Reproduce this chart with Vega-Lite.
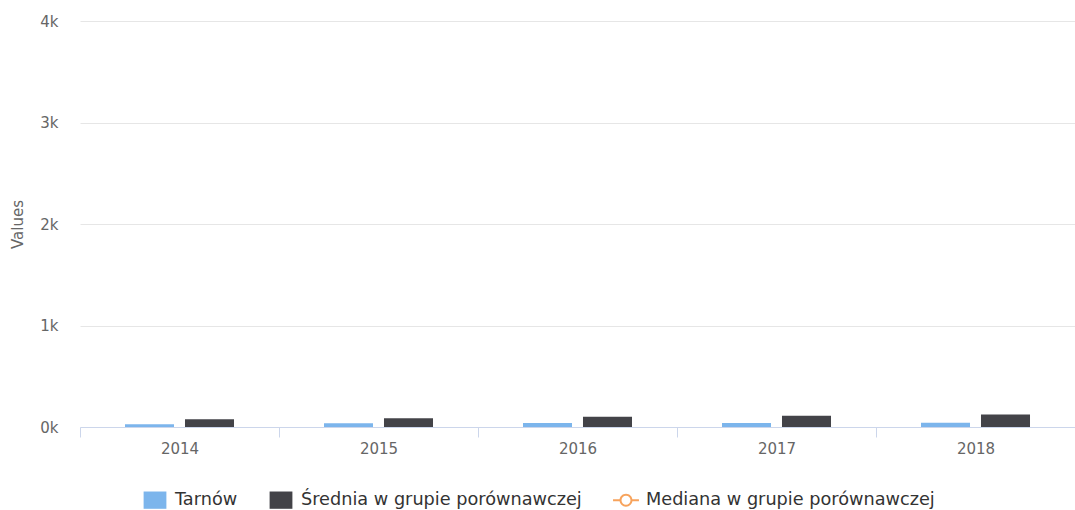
{
  "$schema": "https://vega.github.io/schema/vega-lite/v6.json",
  "width": 995,
  "height": 406,
  "autosize": {"type": "none"},
  "padding": {"left": 80, "top": 21, "right": 0, "bottom": 83},
  "background": "white",
  "config": {"view": {"stroke": null}, "font": "DejaVu Sans"},
  "data": {
    "values": [
      {"year": "2014", "series": "Tarnów", "value": 27},
      {"year": "2015", "series": "Tarnów", "value": 38},
      {"year": "2016", "series": "Tarnów", "value": 39},
      {"year": "2017", "series": "Tarnów", "value": 40},
      {"year": "2018", "series": "Tarnów", "value": 41},
      {"year": "2014", "series": "Średnia w grupie porównawczej", "value": 76},
      {"year": "2015", "series": "Średnia w grupie porównawczej", "value": 86},
      {"year": "2016", "series": "Średnia w grupie porównawczej", "value": 101},
      {"year": "2017", "series": "Średnia w grupie porównawczej", "value": 111},
      {"year": "2018", "series": "Średnia w grupie porównawczej", "value": 122}
    ]
  },
  "mark": {"type": "bar"},
  "encoding": {
    "x": {
      "field": "year",
      "type": "nominal",
      "scale": {"paddingInner": 0, "paddingOuter": 0},
      "axis": {
        "title": null,
        "labelAngle": 0,
        "domainColor": "#ccd6eb",
        "tickColor": "#ccd6eb",
        "tickBand": "extent",
        "tickSize": 10,
        "labelPadding": 4,
        "labelFontSize": 15,
        "labelColor": "#666666",
        "labelFont": "DejaVu Sans"
      }
    },
    "xOffset": {
      "field": "series",
      "type": "nominal",
      "scale": {
        "domain": ["Tarnów", "Średnia w grupie porównawczej"],
        "paddingInner": 0.183,
        "paddingOuter": 0.75
      }
    },
    "y": {
      "field": "value",
      "type": "quantitative",
      "scale": {"domain": [0, 4000], "nice": false},
      "axis": {
        "values": [0, 1000, 2000, 3000, 4000],
        "labelExpr": "datum.value / 1000 + 'k'",
        "domain": false,
        "ticks": false,
        "gridColor": "#e6e6e6",
        "labelPadding": 22,
        "labelFontSize": 15,
        "labelColor": "#666666",
        "labelFont": "DejaVu Sans",
        "title": "Values",
        "titleColor": "#666666",
        "titleFontSize": 15,
        "titleFont": "DejaVu Sans",
        "titleFontWeight": "normal",
        "titlePadding": 14
      }
    },
    "color": {
      "field": "series",
      "type": "nominal",
      "scale": {
        "domain": ["Tarnów", "Średnia w grupie porównawczej", "Mediana w grupie porównawczej"],
        "range": ["#7cb5ec", "#434348", "#f7a35c"]
      },
      "legend": {
        "orient": "none",
        "legendX": 63,
        "legendY": 467,
        "direction": "horizontal",
        "title": null,
        "labelFontSize": 17.7,
        "labelColor": "#333333",
        "labelFont": "DejaVu Sans",
        "labelLimit": 500,
        "symbolSize": 576,
        "symbolType": "M-0.95,-0.72H0.95V0.72H-0.95Z",
        "symbolStrokeWidth": 0,
        "labelOffset": 8,
        "columnPadding": 31,
        "encode": {
          "symbols": {
            "update": {
              "shape": {"signal": "datum.value === 'Mediana w grupie porównawczej' ? 'M-1.08,-0.083H-0.5V0.083H-1.08Z M0.5,-0.083H1.08V0.083H0.5Z M-0.54,0A0.54,0.54,0,1,1,0.54,0A0.54,0.54,0,1,1,-0.54,0Z M-0.375,0A0.375,0.375,0,1,0,0.375,0A0.375,0.375,0,1,0,-0.375,0Z' : 'M-0.95,-0.72H0.95V0.72H-0.95Z'"}
            }
          }
        }
      }
    }
  }
}
